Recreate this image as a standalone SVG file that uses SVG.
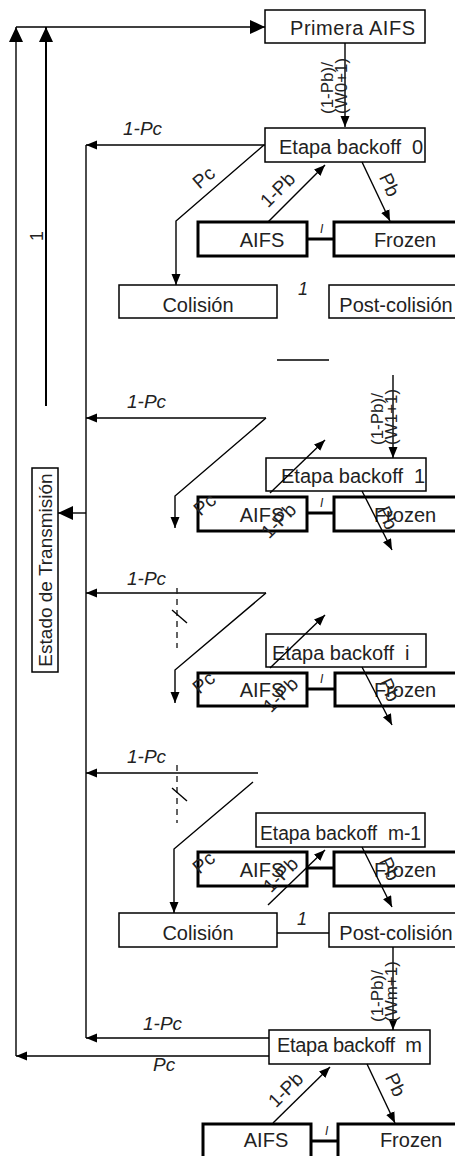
<svg xmlns="http://www.w3.org/2000/svg" width="455" height="1156" viewBox="0 0 455 1156">
<style>
.box{fill:#fff;stroke:#000;stroke-width:1.5}
.tbox{fill:#fff;stroke:#000;stroke-width:3}
.t{font-family:"Liberation Sans",Arial,sans-serif;font-size:20px;fill:#222}
.s{font-size:18px}
.it{font-style:italic}
.ln{fill:none;stroke:#000;stroke-width:1.4}
.thk{fill:none;stroke:#000;stroke-width:3}
.dash{fill:none;stroke:#222;stroke-width:1.4;stroke-dasharray:6,5}
.m{text-anchor:middle}
</style>
<defs>
<marker id="ab" markerWidth="16" markerHeight="14" refX="15" refY="7" orient="auto" markerUnits="userSpaceOnUse"><path d="M0,0 L15,7 L0,14 z" fill="#000"/></marker>
<marker id="as" markerWidth="12" markerHeight="10" refX="11" refY="4.5" orient="auto" markerUnits="userSpaceOnUse"><path d="M0,0 L11,4.5 L0,9 z" fill="#000"/></marker>
</defs>
<rect width="455" height="1156" fill="#fff"/>

<g id="primera-aifs"><rect class="box" x="265" y="10" width="160" height="33"/><text class="t" x="290" y="35" textLength="125" lengthAdjust="spacing">Primera AIFS</text></g>
<g id="estado-transmision"><rect class="box" x="32" y="468" width="26" height="204"/><text class="t m" font-size="19" transform="translate(52,570) rotate(-90)" style="font-size:19px">Estado de Transmisión</text></g>

<g id="etapa-0"><rect class="box" x="265" y="128" width="160" height="34"/><text class="t" x="279" y="154">Etapa backoff&#160; 0</text></g>
<g id="aifs-0"><rect class="tbox" x="198" y="222" width="109" height="34"/><text class="t m" x="262" y="247">AIFS</text></g>
<g id="frozen-0"><rect class="tbox" x="334" y="222" width="125" height="34"/><text class="t m" x="405" y="247">Frozen</text></g>
<g id="colision-0"><rect class="box" x="119" y="285" width="158" height="33"/><text class="t m" x="198" y="312">Colisión</text></g>
<g id="postcolision-0"><rect class="box" x="329" y="285" width="127" height="33"/><text class="t m" x="396" y="312">Post-colisión</text></g>

<g id="etapa-1"><rect class="box" x="266" y="458" width="160" height="33"/><text class="t" x="281" y="483">Etapa backoff&#160; 1</text></g>
<g id="aifs-1"><rect class="tbox" x="198" y="497" width="109" height="34"/><text class="t m" x="262" y="522">AIFS</text></g>
<g id="frozen-1"><rect class="tbox" x="334" y="497" width="125" height="34"/><text class="t m" x="405" y="522">Frozen</text></g>

<g id="etapa-i"><rect class="box" x="266" y="634" width="160" height="33"/><text class="t" x="272" y="660">Etapa backoff&#160; i</text></g>
<g id="aifs-i"><rect class="tbox" x="198" y="673" width="109" height="33"/><text class="t m" x="262" y="697">AIFS</text></g>
<g id="frozen-i"><rect class="tbox" x="335" y="673" width="125" height="33"/><text class="t m" x="405" y="697">Frozen</text></g>

<g id="etapa-m1"><rect class="box" x="256" y="813" width="169" height="34"/><text class="t" x="260" y="840" textLength="161" lengthAdjust="spacingAndGlyphs">Etapa backoff&#160; m-1</text></g>
<g id="aifs-m1"><rect class="tbox" x="198" y="852" width="109" height="34"/><text class="t m" x="262" y="877">AIFS</text></g>
<g id="frozen-m1"><rect class="tbox" x="334" y="852" width="125" height="34"/><text class="t m" x="405" y="877">Frozen</text></g>
<g id="colision-m1"><rect class="box" x="119" y="913" width="158" height="34"/><text class="t m" x="198" y="940">Colisión</text></g>
<g id="postcolision-m1"><rect class="box" x="329" y="913" width="127" height="34"/><text class="t m" x="396" y="940">Post-colisión</text></g>

<g id="etapa-m"><rect class="box" x="269" y="1030" width="161" height="34"/><text class="t" x="277" y="1052" textLength="145" lengthAdjust="spacing">Etapa backoff&#160; m</text></g>
<g id="aifs-m"><rect class="tbox" x="203" y="1124" width="108" height="40"/><text class="t m" x="266" y="1147">AIFS</text></g>
<g id="frozen-m"><rect class="tbox" x="338" y="1124" width="125" height="40"/><text class="t m" x="411" y="1147">Frozen</text></g>

<g id="connectors">
<path class="ln" d="M16,1056 L16,27" marker-end="url(#ab)"/>
<path class="ln" d="M46,406 L46,27" style="stroke-width:2" marker-end="url(#ab)"/>
<path class="ln" d="M16,27 L265,27" marker-end="url(#ab)"/>
<path class="ln" d="M86,145 L86,1038"/>
<path class="ln" d="M86,513 L58,513" marker-end="url(#ab)"/>

<path class="ln" d="M345,43 L345,127" marker-end="url(#as)"/>
<path class="ln" d="M265,145 L86,145" marker-end="url(#as)"/>
<path class="ln" d="M264,145 L176,221 L176,285" marker-end="url(#as)"/>
<path class="ln" d="M268,222 L325,165" marker-end="url(#as)"/>
<path class="ln" d="M362,162 L390,221" marker-end="url(#as)"/>
<path class="thk" d="M307,239 L334,239"/>
<path class="ln" d="M277,360 L329,360"/>

<path class="ln" d="M393,375 L393,458" marker-end="url(#as)"/>
<path class="ln" d="M266,418 L86,418" marker-end="url(#as)"/>
<path class="ln" d="M266,418 L175,496 L175,528" marker-end="url(#as)"/>
<path class="ln" d="M270,493 L325,440" marker-end="url(#as)"/>
<path class="ln" d="M362,491 L392,550" marker-end="url(#as)"/>
<path class="thk" d="M307,513 L334,513"/>

<path class="ln" d="M266,593 L86,593" marker-end="url(#as)"/>
<path class="ln" d="M266,593 L175,670 L175,703" marker-end="url(#as)"/>
<path class="dash" d="M177,588 L177,648"/>
<path class="ln" d="M172,610 L187,623"/>
<path class="ln" d="M270,668 L325,615" marker-end="url(#as)"/>
<path class="ln" d="M362,667 L392,725" marker-end="url(#as)"/>
<path class="thk" d="M307,689 L335,689"/>

<path class="ln" d="M258,773 L86,773" marker-end="url(#as)"/>
<path class="ln" d="M253,782 L174,849 L174,913" marker-end="url(#as)"/>
<path class="dash" d="M177,765 L177,823"/>
<path class="ln" d="M172,788 L187,801"/>
<path class="ln" d="M268,905 L325,850" marker-end="url(#as)"/>
<path class="ln" d="M362,847 L392,907" marker-end="url(#as)"/>
<path class="thk" d="M307,868 L334,868"/>
<path class="ln" d="M277,933 L329,933"/>

<path class="ln" d="M393,947 L393,1030" marker-end="url(#as)"/>
<path class="ln" d="M269,1038 L86,1038" marker-end="url(#as)"/>
<path class="ln" d="M269,1056 L16,1056" marker-end="url(#as)"/>
<path class="ln" d="M273,1123 L330,1067" marker-end="url(#as)"/>
<path class="ln" d="M367,1064 L395,1123" marker-end="url(#as)"/>
<path class="thk" d="M311,1141 L338,1141"/>
</g>

<g id="labels">
<text class="t s" transform="translate(43,241) rotate(-90)">1</text>
<text class="t" style="font-size:17px" transform="translate(333,114) rotate(-90)">(1-Pb)/<tspan x="0" dy="14">(W0+1)</tspan></text>
<text class="t" style="font-size:17px" transform="translate(383,445) rotate(-90)">(1-Pb)/<tspan x="0" dy="14">(W1+1)</tspan></text>
<text class="t" style="font-size:17px" transform="translate(383,1022) rotate(-90)">(1-Pb)/<tspan x="0" dy="14">(Wm+1)</tspan></text>

<text class="t it" style="font-size:19px" x="123" y="135">1-Pc</text>
<text class="t it" style="font-size:19px" x="127" y="408">1-Pc</text>
<text class="t it" style="font-size:19px" x="127" y="585">1-Pc</text>
<text class="t it" style="font-size:19px" x="127" y="763">1-Pc</text>
<text class="t it" style="font-size:19px" x="143" y="1030">1-Pc</text>
<text class="t it" style="font-size:19px" x="153" y="1071">Pc</text>

<text class="t m" style="font-size:19px" transform="translate(204,178) rotate(-41)" y="6">Pc</text>
<text class="t m" style="font-size:19px" transform="translate(205,505) rotate(-41)" y="6">Pc</text>
<text class="t m" style="font-size:19px" transform="translate(204,683) rotate(-41)" y="6">Pc</text>
<text class="t m" style="font-size:19px" transform="translate(204,863) rotate(-41)" y="6">Pc</text>

<text class="t m" style="font-size:19px" transform="translate(278,190) rotate(-45)" y="6">1-Pb</text>
<text class="t m" style="font-size:19px" transform="translate(279,521) rotate(-45)" y="6">1-Pb</text>
<text class="t m" style="font-size:19px" transform="translate(281,695) rotate(-45)" y="6">1-Pb</text>
<text class="t m" style="font-size:19px" transform="translate(281,875) rotate(-45)" y="6">1-Pb</text>
<text class="t m" style="font-size:19px" transform="translate(286,1090) rotate(-45)" y="6">1-Pb</text>

<text class="t m" style="font-size:19px" transform="translate(389,185) rotate(65)" y="6">Pb</text>
<text class="t m" style="font-size:19px" transform="translate(387,518) rotate(65)" y="6">Pb</text>
<text class="t m" style="font-size:19px" transform="translate(389,690) rotate(65)" y="6">Pb</text>
<text class="t m" style="font-size:19px" transform="translate(389,869) rotate(65)" y="6">Pb</text>
<text class="t m" style="font-size:19px" transform="translate(395,1085) rotate(65)" y="6">Pb</text>

<text class="t it" style="font-size:12px" x="320" y="233">I</text>
<text class="t it" style="font-size:12px" x="320" y="507">I</text>
<text class="t it" style="font-size:12px" x="320" y="683">I</text>
<text class="t it" style="font-size:12px" x="325" y="1135">I</text>

<text class="t it s" x="298" y="295">1</text>
<text class="t it s" x="297" y="925">1</text>
</g>
</svg>
